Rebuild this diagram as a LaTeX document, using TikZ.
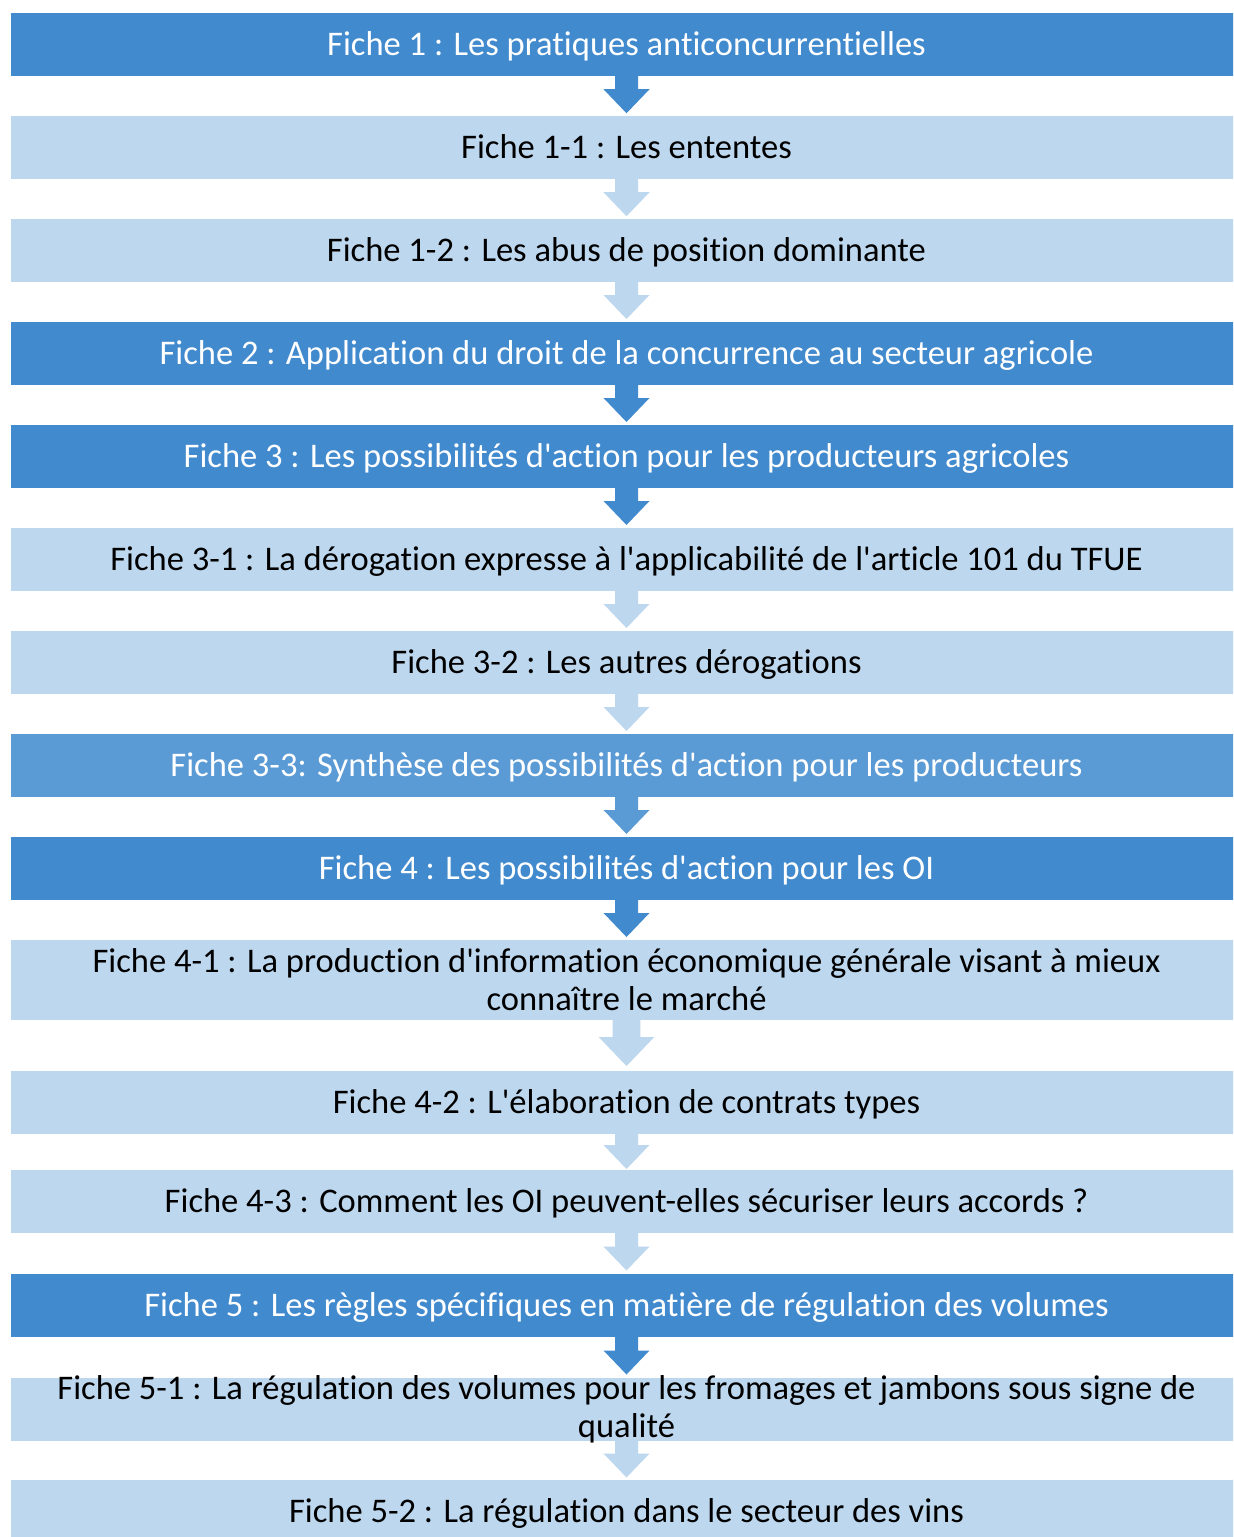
\documentclass[tikz,border=0pt]{standalone}
\usepackage{fontspec}
\setmainfont{Carlito}[Ligatures={NoCommon}]
\usepackage{tikz}
\usetikzlibrary{calc}

\definecolor{bleufonce}{RGB}{66,138,206}
\definecolor{bleumoyen}{RGB}{91,155,213}
\definecolor{bleuclair}{RGB}{189,215,238}

\tikzset{
	boite/.style={minimum width=924.75pt, minimum height=48pt, inner sep=0pt, draw=white, line width=0.6pt,
		align=center, font=\fontsize{25.9}{28.5}\selectfont},
	uneligne/.style={text height=23.5pt, text depth=6.4pt},
	fonce/.style={boite, fill=bleufonce, text=white},
	moyen/.style={boite, fill=bleumoyen, text=white},
	clair/.style={boite, fill=bleuclair, text=black}
}

\newcommand{\ap}{\textquotesingle}

% fleche entre deux fiches : [echelle]{de}{vers}{couleur}
\newcommand{\fleche}[4][1]{%
	\coordinate (m) at ($(#2.south)!0.5!(#3.north)$);
	\fill[#4] ($(#2.south)+(-11.5*#1,-2)$) -- ($(m)+(-11.5*#1,-6.5*#1)$) -- ($(m)+(-23*#1,-6.5*#1)$)
		-- ($(m)+(0,17.5*#1)$) -- ($(m)+(23*#1,-6.5*#1)$) -- ($(m)+(11.5*#1,-6.5*#1)$)
		-- ($(#2.south)+(11.5*#1,-2)$) -- cycle;}

\begin{document}
\begin{tikzpicture}[x=0.75pt, y=-0.75pt]
	\useasboundingbox (0,0) rectangle (1233,1537);
	\fill[white] (0,0) rectangle (1233,1537);
	\clip (0,0) rectangle (1233,1537);

	% les fiches
	\node[fonce, uneligne] (f1) at (626.5,44) {Fiche 1 : Les pratiques anticoncurrentielles};
	\node[clair, uneligne] (f11) at (626.5,147.5) {Fiche 1-1 : Les ententes};
	\node[clair, uneligne] (f12) at (626.5,250) {Fiche 1-2 : Les abus de position dominante};
	\node[fonce, uneligne] (f2) at (626.5,353) {Fiche 2 : Application du droit de la concurrence au secteur agricole};
	\node[fonce, uneligne] (f3) at (626.5,456) {Fiche 3 : Les possibilités d\ap action pour les producteurs agricoles};
	\node[clair, uneligne] (f31) at (626.5,559) {Fiche 3-1 : La dérogation expresse à l\ap applicabilité de l\ap article 101 du TFUE};
	\node[clair, uneligne] (f32) at (626.5,662) {Fiche 3-2 : Les autres dérogations};
	\node[moyen, uneligne] (f33) at (626.5,765) {Fiche 3-3: Synthèse des possibilités d\ap action pour les producteurs};
	\node[fonce, uneligne] (f4) at (626.5,868) {Fiche 4 : Les possibilités d\ap action pour les OI};
	\node[clair, minimum height=60.75pt] (f41) at (626.5,979.5) {Fiche 4-1 : La production d\ap information économique générale visant à mieux\\connaître le marché};
	\node[clair, uneligne] (f42) at (626.5,1102) {Fiche 4-2 : L\ap élaboration de contrats types};
	\node[clair, uneligne] (f43) at (626.5,1201) {Fiche 4-3 : Comment les OI peuvent-elles sécuriser leurs accords ?};
	\node[fonce, uneligne] (f5) at (626.5,1305) {Fiche 5 : Les règles spécifiques en matière de régulation des volumes};
	\node[clair, inner ysep=-6pt] (f51) at (626.5,1409) {Fiche 5-1 : La régulation des volumes pour les fromages et jambons sous signe de\\qualité};
	\node[clair, uneligne] (f52) at (626.5,1511) {Fiche 5-2 : La régulation dans le secteur des vins};

	% les fleches
	\fleche{f1}{f11}{bleufonce}
	\fleche{f11}{f12}{bleuclair}
	\fleche{f12}{f2}{bleuclair}
	\fleche{f2}{f3}{bleufonce}
	\fleche{f3}{f31}{bleufonce}
	\fleche{f31}{f32}{bleuclair}
	\fleche{f32}{f33}{bleuclair}
	\fleche{f33}{f4}{bleumoyen}
	\fleche{f4}{f41}{bleufonce}
	\fleche[1.2]{f41}{f42}{bleuclair}
	\fleche{f42}{f43}{bleuclair}
	\fleche{f43}{f5}{bleuclair}
	\fleche{f5}{f51}{bleufonce}
	\fleche{f51}{f52}{bleuclair}
\end{tikzpicture}
\end{document}
